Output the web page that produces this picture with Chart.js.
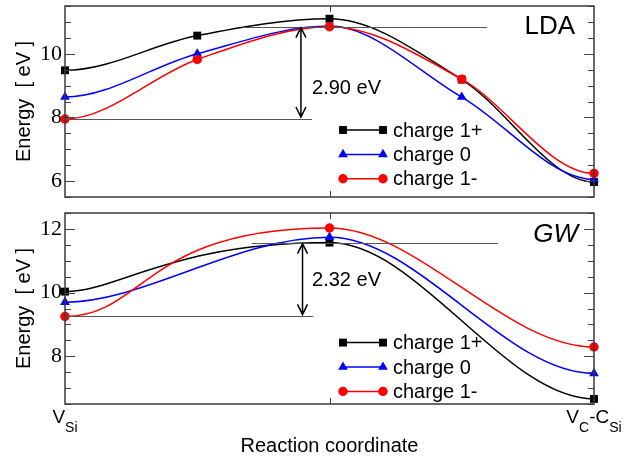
<!DOCTYPE html>
<html>
<head>
<meta charset="utf-8">
<script src="https://cdn.jsdelivr.net/npm/chart.js@4/dist/chart.umd.min.js"></script>
<style>
  html, body { margin: 0; padding: 0; background: #fff; }
  #wrap { position: relative; width: 639px; height: 458px; }
  .panel { position: absolute; left: 0; width: 639px; }
  #top { top: 0; height: 205px; }
  #bottom { top: 205px; height: 253px; }
</style>
</head>
<body>
<div id="wrap">
  <div class="panel" id="top"><canvas id="lda-chart"></canvas></div>
  <div class="panel" id="bottom"><canvas id="gw-chart"></canvas></div>
</div>
<script>
// reaction coordinate: V_Si (0) -> V_C-C_Si (1)
let ldaCoord = [0, 0.25, 0.5, 0.75, 1];
let ldaPlus  = [9.48, 10.57, 11.10, 9.19, 5.97];
let ldaZero  = [8.64, 10.00, 10.87, 8.64, 6.05];
let ldaMinus = [7.95, 9.82, 10.85, 9.20, 6.24];

let gwCoord = [0, 0.5, 1];
let gwPlus  = [10.03, 11.57, 6.66];
let gwZero  = [9.70, 11.74, 7.46];
let gwMinus = [9.25, 12.03, 8.29];

let seriesNames = ['charge 1+', 'charge 0', 'charge 1-'];
let ldaBarrier = [7.95, 10.85];
let gwBarrier = [9.25, 11.57];
let barrierLabels = ['2.90 eV', '2.32 eV'];
let panelNames = ['LDA', 'GW'];
// end labels: [text, isSubscript]
let startLabel = [['V', 0], ['Si', 1]];
let endLabel = [['V', 0], ['C', 1], ['-C', 0], ['Si', 1]];

let seriesColors = ['#000000', '#0000ff', '#ff0000'];
let seriesMarkers = ['rect', 'triangle', 'circle'];
let markerSizes = [5.6, 5.6, 4.7];
let sans = '"Liberation Sans", Arial, sans-serif';

let makeDatasets = function (xs, ys) {
  return ys.map(function (vals, i) {
    return {
      label: seriesNames[i],
      data: vals.map(function (v, j) { return {x: xs[j], y: v}; }),
      borderColor: seriesColors[i],
      backgroundColor: seriesColors[i],
      borderWidth: 1.5,
      pointStyle: seriesMarkers[i],
      pointRadius: markerSizes[i],
      pointHoverRadius: markerSizes[i],
      pointBorderWidth: 0,
      cubicInterpolationMode: 'monotone',
      clip: false,
      fill: false,
      order: 2 - i
    };
  });
};

// frame, inward ticks, barrier arrow, panel name, legend
let panelDecor = {
  id: 'panelDecor',
  beforeDatasetsDraw(chart, args, opts) {
    // flat tangents at both ends of every curve
    chart.getSortedVisibleDatasetMetas().forEach(function (meta) {
      let line = meta.dataset;
      if (!line || !line.updateControlPoints) return;
      line.updateControlPoints(chart.chartArea, 'x');
      let pts = line.points;
      if (pts.length < 2) return;
      pts[0].cp2y = pts[0].y;
      pts[pts.length - 1].cp1y = pts[pts.length - 1].y;
      if (opts.firstSegment) {
        // shape of the first leg (curve handles, as fractions of the leg)
        let k = opts.firstSegment[meta.index];
        let dx = pts[1].x - pts[0].x;
        pts[0].cp2x = pts[0].x + k[0] * dx;
        pts[1].cp1x = pts[1].x - k[1] * dx;
        pts[1].cp1y = pts[1].y;
      }
      line._path = undefined;
    });
  },
  afterDatasetsDraw(chart, args, opts) {
    let c = chart.ctx, a = chart.chartArea;
    let xs = chart.scales.x, ys = chart.scales.y;
    c.save();
    // inward ticks
    c.strokeStyle = '#444';
    c.lineWidth = 1;
    c.beginPath();
    ys.ticks.forEach(function (t) {
      let v = t.value;
      if (Math.abs(v * 2 - Math.round(v * 2)) > 1e-6) return;
      let len = Math.abs(v % 2) < 1e-6 ? 10 : 6;
      let py = Math.round(ys.getPixelForValue(v)) + 0.5;
      c.moveTo(a.left, py); c.lineTo(a.left + len, py);
      c.moveTo(a.right, py); c.lineTo(a.right - len, py);
    });
    let px = Math.round(xs.getPixelForValue(0.5)) + 0.5;
    c.moveTo(px, a.bottom); c.lineTo(px, a.bottom - 6);
    c.moveTo(px, a.top); c.lineTo(px, a.top + 6);
    c.stroke();
    // frame
    c.strokeStyle = '#3a3a3a';
    c.lineWidth = 1.5;
    c.strokeRect(a.left, a.top, a.right - a.left, a.bottom - a.top);

    // barrier lines and arrow
    let b = opts.barrier;
    let yLo = ys.getPixelForValue(b[0]), yHi = ys.getPixelForValue(b[1]);
    c.strokeStyle = '#555';
    c.lineWidth = 1;
    c.beginPath();
    c.moveTo(xs.getPixelForValue(opts.lowX[0]), Math.round(yLo) + 0.5);
    c.lineTo(xs.getPixelForValue(opts.lowX[1]), Math.round(yLo) + 0.5);
    c.moveTo(xs.getPixelForValue(opts.highX[0]), Math.round(yHi) + 0.5);
    c.lineTo(xs.getPixelForValue(opts.highX[1]), Math.round(yHi) + 0.5);
    c.stroke();
    let ax = xs.getPixelForValue(opts.arrowX);
    c.strokeStyle = '#000';
    c.lineWidth = 1.5;
    c.beginPath();
    c.moveTo(ax, yHi + 1); c.lineTo(ax, yLo - 2);
    c.moveTo(ax - 5, yHi + 11); c.lineTo(ax, yHi + 1); c.lineTo(ax + 5, yHi + 11);
    c.moveTo(ax - 5, yLo - 12); c.lineTo(ax, yLo - 2); c.lineTo(ax + 5, yLo - 12);
    c.stroke();
    c.fillStyle = '#000';
    c.font = '20px ' + sans;
    c.textAlign = 'left';
    c.textBaseline = 'middle';
    c.fillText(opts.barrierText, xs.getPixelForValue(opts.textAt[0]), ys.getPixelForValue(opts.textAt[1]));

    // panel name
    c.font = (opts.italic ? 'italic ' : '') + '26px ' + sans;
    c.textAlign = 'right';
    c.fillText(opts.name, a.right - opts.nameOffset[0], a.top + opts.nameOffset[1]);

    // legend: line with a marker at both ends
    let lx = a.left + 278;
    chart.data.datasets.forEach(function (ds, i) {
      let ly = a.top + opts.legendTop + i * 24.4;
      c.strokeStyle = ds.borderColor;
      c.lineWidth = 1.5;
      c.beginPath();
      c.moveTo(lx, ly); c.lineTo(lx + 40, ly);
      c.stroke();
      c.fillStyle = ds.backgroundColor;
      [lx, lx + 40].forEach(function (mx) {
        Chart.helpers.drawPoint(c, {pointStyle: ds.pointStyle, radius: ds.pointRadius, rotation: 0, borderWidth: 0}, mx, ly);
      });
      c.fillStyle = '#000';
      c.font = '20px ' + sans;
      c.textAlign = 'left';
      c.textBaseline = 'middle';
      c.fillText(ds.label, lx + 50, ly + 1);
    });

    // coordinate end labels with subscripts
    if (opts.endLabels) {
      let drawLabel = function (parts, cx) {
        let w = 0;
        parts.forEach(function (p) {
          c.font = (p[1] ? '14px ' : '19px ') + sans;
          w += c.measureText(p[0]).width;
        });
        let x = cx - w / 2;
        c.textAlign = 'left';
        c.textBaseline = 'alphabetic';
        parts.forEach(function (p) {
          c.font = (p[1] ? '14px ' : '19px ') + sans;
          c.fillText(p[0], x, a.bottom + (p[1] ? 28 : 19));
          x += c.measureText(p[0]).width;
        });
      };
      drawLabel(startLabel, xs.getPixelForValue(0));
      drawLabel(endLabel, xs.getPixelForValue(1));
    }
    c.restore();
  }
};

let makeOptions = function (yMin, yMax, padTop, xHeight, showTitle, decor) {
  return {
    responsive: true,
    maintainAspectRatio: false,
    animation: false,
    events: [],
    layout: { padding: { left: 0, right: 45, top: padTop, bottom: 0 } },
    plugins: {
      legend: { display: false },
      tooltip: { enabled: false },
      panelDecor: decor
    },
    scales: {
      x: {
        type: 'linear', min: 0, max: 1,
        ticks: { display: false },
        grid: { display: false, drawTicks: false },
        border: { display: false },
        title: { display: showTitle, text: 'Reaction coordinate', color: '#000', font: { family: sans, size: 20 }, padding: { top: 0, bottom: 0 } },
        afterFit: function (s) { s.height = xHeight; s.paddingLeft = 0; s.paddingRight = 0; }
      },
      y: {
        min: yMin, max: yMax,
        ticks: {
          stepSize: 0.5, autoSkip: false, padding: 3, color: '#000',
          font: { family: '"Liberation Serif", "Times New Roman", serif', size: 22 },
          callback: function (v) { return Math.abs(v % 2) < 1e-6 ? v : ''; }
        },
        grid: { display: false, drawTicks: false },
        border: { display: false },
        title: { display: true, text: 'Energy  [ eV ]', color: '#000', font: { family: sans, size: 20 }, padding: { top: 12, bottom: 0 } },
        afterFit: function (s) { s.width = 65; s.paddingTop = 0; s.paddingBottom = 0; }
      }
    }
  };
};

let ldaChart = new Chart(document.getElementById('lda-chart').getContext('2d'), {
  type: 'line',
  data: { datasets: makeDatasets(ldaCoord, [ldaPlus, ldaZero, ldaMinus]) },
  options: makeOptions(5.5, 11.5, 6, 8, false, {
    barrier: ldaBarrier, lowX: [0, 0.467], highX: [0.335, 0.798], arrowX: 0.446,
    barrierText: barrierLabels[0], textAt: [0.467, 8.92],
    name: panelNames[0], italic: false, nameOffset: [19, 21],
    legendTop: 124, endLabels: false
  }),
  plugins: [panelDecor]
});

let gwChart = new Chart(document.getElementById('gw-chart').getContext('2d'), {
  type: 'line',
  data: { datasets: makeDatasets(gwCoord, [gwPlus, gwZero, gwMinus]) },
  options: makeOptions(6.5, 12.5, 8, 54, true, {
    barrier: gwBarrier, lowX: [0, 0.469], highX: [0.353, 0.818], arrowX: 0.449,
    barrierText: barrierLabels[1], textAt: [0.467, 10.38],
    name: panelNames[1], italic: true, nameOffset: [16, 22],
    legendTop: 129.6, endLabels: true,
    firstSegment: [[0.2, 0.6], [0.3, 0.35], [0.3, 0.7]]
  }),
  plugins: [panelDecor]
});
</script>
</body>
</html>
